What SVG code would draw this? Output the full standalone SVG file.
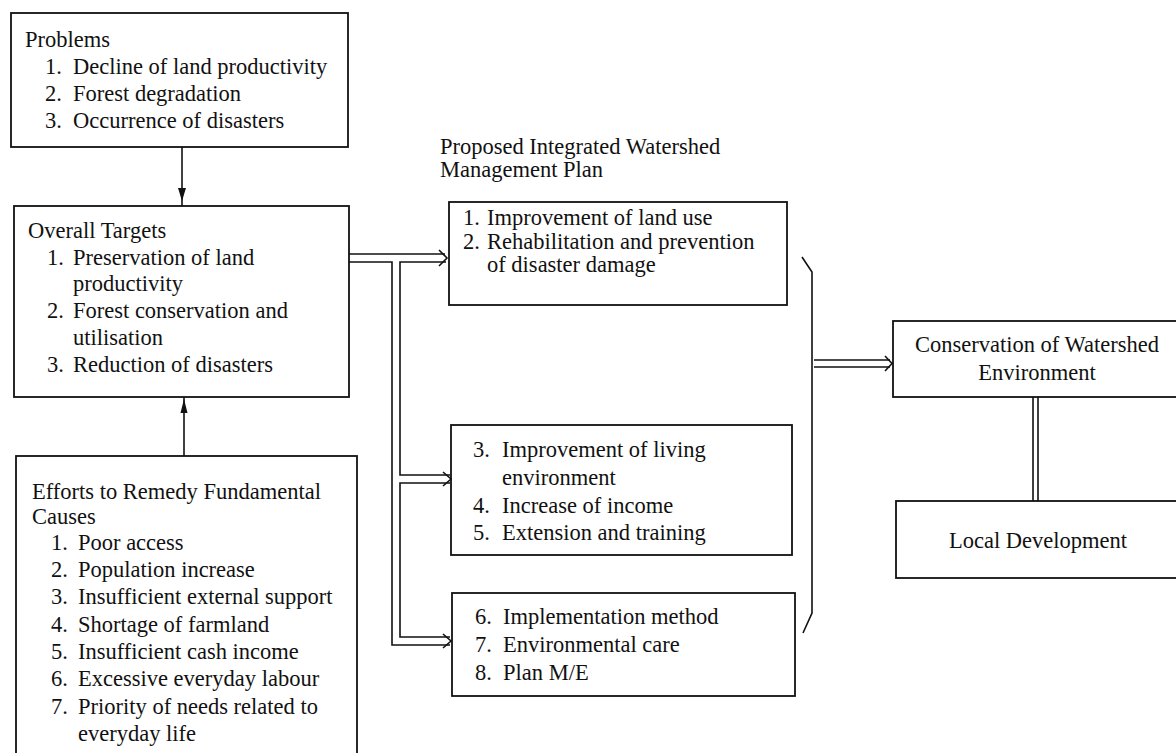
<svg xmlns="http://www.w3.org/2000/svg" width="1176" height="753" viewBox="0 0 1176 753">
<style>
.box{fill:#fff;stroke:#111;stroke-width:1.8}
.t{font-family:"Liberation Serif","Times New Roman",serif;font-size:22.5px;fill:#111}
.c{text-anchor:middle}
.ln{fill:none;stroke:#111;stroke-width:1.6}
.hd{fill:#111;stroke:none}
</style>
<rect width="1176" height="753" fill="#fff"/>

<g id="problems">
<rect class="box" x="11" y="13" width="337" height="134"/>
<text class="t" x="25" y="47">Problems</text>
<text class="t" x="45" y="74">1.</text><text class="t" x="73" y="74">Decline of land productivity</text>
<text class="t" x="45" y="101">2.</text><text class="t" x="73" y="101">Forest degradation</text>
<text class="t" x="45" y="128">3.</text><text class="t" x="73" y="128">Occurrence of disasters</text>
</g>

<g id="overall-targets">
<rect class="box" x="14" y="206" width="335" height="191"/>
<text class="t" x="28" y="238">Overall Targets</text>
<text class="t" x="47" y="265">1.</text><text class="t" x="73" y="265">Preservation of land</text>
<text class="t" x="73" y="291">productivity</text>
<text class="t" x="47" y="318">2.</text><text class="t" x="73" y="318">Forest conservation and</text>
<text class="t" x="73" y="345">utilisation</text>
<text class="t" x="47" y="372">3.</text><text class="t" x="73" y="372">Reduction of disasters</text>
</g>

<g id="efforts">
<rect class="box" x="16" y="456" width="341" height="310"/>
<text class="t" x="32" y="499">Efforts to Remedy Fundamental</text>
<text class="t" x="32" y="524">Causes</text>
<text class="t" x="51" y="550">1.</text><text class="t" x="78" y="550">Poor access</text>
<text class="t" x="51" y="577">2.</text><text class="t" x="78" y="577">Population increase</text>
<text class="t" x="51" y="604">3.</text><text class="t" x="78" y="604">Insufficient external support</text>
<text class="t" x="51" y="632">4.</text><text class="t" x="78" y="632">Shortage of farmland</text>
<text class="t" x="51" y="659">5.</text><text class="t" x="78" y="659">Insufficient cash income</text>
<text class="t" x="51" y="686">6.</text><text class="t" x="78" y="686">Excessive everyday labour</text>
<text class="t" x="51" y="714">7.</text><text class="t" x="78" y="714">Priority of needs related to</text>
<text class="t" x="78" y="741">everyday life</text>
</g>

<g id="plan-title">
<text class="t" x="440" y="154">Proposed Integrated Watershed</text>
<text class="t" x="440" y="177">Management Plan</text>
</g>

<g id="plan-1">
<rect class="box" x="449" y="202" width="338" height="103"/>
<text class="t" x="463" y="225">1.</text><text class="t" x="487" y="225">Improvement of land use</text>
<text class="t" x="463" y="249">2.</text><text class="t" x="487" y="249">Rehabilitation and prevention</text>
<text class="t" x="487" y="272">of disaster damage</text>
</g>

<g id="plan-2">
<rect class="box" x="451" y="425" width="341" height="130"/>
<text class="t" x="473" y="457">3.</text><text class="t" x="502" y="457">Improvement of living</text>
<text class="t" x="502" y="485">environment</text>
<text class="t" x="473" y="513">4.</text><text class="t" x="502" y="513">Increase of income</text>
<text class="t" x="473" y="540">5.</text><text class="t" x="502" y="540">Extension and training</text>
</g>

<g id="plan-3">
<rect class="box" x="452" y="593" width="343" height="103"/>
<text class="t" x="475" y="624">6.</text><text class="t" x="503" y="624">Implementation method</text>
<text class="t" x="475" y="652">7.</text><text class="t" x="503" y="652">Environmental care</text>
<text class="t" x="475" y="680">8.</text><text class="t" x="503" y="680">Plan M/E</text>
</g>

<g id="conservation">
<rect class="box" x="893" y="321" width="300" height="76"/>
<text class="t c" x="1037" y="352">Conservation of Watershed</text>
<text class="t c" x="1037" y="380">Environment</text>
</g>

<g id="local-development">
<rect class="box" x="896" y="501" width="300" height="77"/>
<text class="t c" x="1038" y="548">Local Development</text>
</g>

<g id="connectors">
<line class="ln" x1="182" y1="147" x2="182" y2="206" stroke-width="2.2"/>
<polygon class="hd" points="178,188 186,188 182,201"/>
<line class="ln" x1="184" y1="456" x2="184" y2="397" stroke-width="2"/>
<polygon class="hd" points="184,399 180.5,413 187.5,413"/>

<path class="ln" d="M349,254 H445"/>
<path class="ln" d="M349,262 H392 V645 H450"/>
<path class="ln" d="M446,262 H400 V475 H450"/>
<path class="ln" d="M450,483 H400 V637 H450"/>
<polyline class="ln" points="439,250 447,258 439,266"/>
<polyline class="ln" points="443,472 451,479 443,486"/>
<polyline class="ln" points="443,634 451,641 443,648"/>

<path class="ln" d="M802,257 L812,272 V613 L803,633" stroke-width="2"/>
<path class="ln" d="M814,360 H890 M814,367 H890"/>
<polyline class="ln" points="885,356 892,363.5 885,371"/>

<path class="ln" d="M1033,397 V501 M1038,397 V501"/>
</g>
</svg>
